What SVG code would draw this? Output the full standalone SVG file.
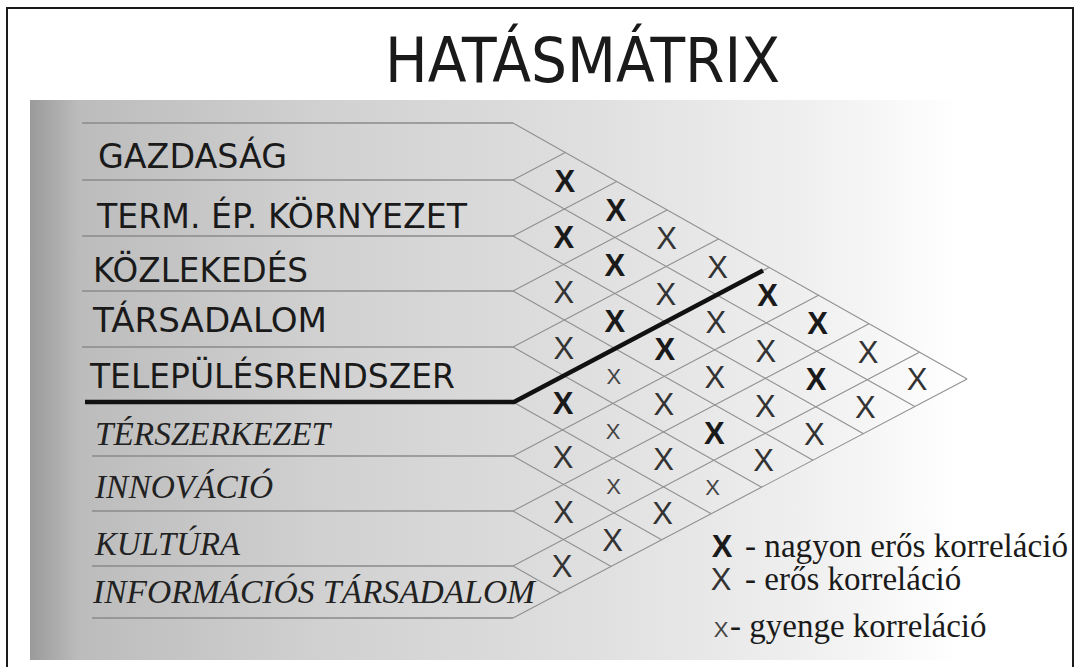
<svg xmlns="http://www.w3.org/2000/svg" width="1080" height="667" viewBox="0 0 1080 667">
<defs>
<linearGradient id="bg" x1="30" y1="0" x2="1010" y2="0" gradientUnits="userSpaceOnUse">
<stop offset="0" stop-color="#9a9a9a"/>
<stop offset="0.05" stop-color="#bcbcbc"/>
<stop offset="0.3" stop-color="#d1d1d1"/>
<stop offset="0.55" stop-color="#dedede"/>
<stop offset="0.8" stop-color="#f0f0f0"/>
<stop offset="0.95" stop-color="#ffffff"/>
</linearGradient>
<style>
.frame{fill:none;stroke:#1a1a1a;stroke-width:2}
.row{fill:none;stroke:#8a8a8a;stroke-width:1.3}
.grid{fill:none;stroke:#909090;stroke-width:1.1}
.thick{fill:none;stroke:#111;stroke-width:4.5;stroke-linejoin:miter}
.title{font-family:"DejaVu Sans",sans-serif;font-size:62px;fill:#1a1a1a}
.lab{font-family:"DejaVu Sans",sans-serif;font-size:34px;fill:#1a1a1a}
.ital{font-family:"Liberation Serif",serif;font-style:italic;font-size:33px;fill:#222}
.xb{font-family:"Liberation Sans",sans-serif;font-weight:bold;font-size:31px;fill:#1a1a1a;text-anchor:middle}
.xn{font-family:"Liberation Sans",sans-serif;font-size:31px;fill:#333;text-anchor:middle}
.xs{font-family:"Liberation Sans",sans-serif;font-size:22px;fill:#444;text-anchor:middle}
.leg{font-family:"Liberation Serif",serif;font-size:33px;fill:#1a1a1a}
</style>
</defs>
<rect width="1080" height="667" fill="#ffffff"/>
<rect x="30" y="100" width="990" height="560" fill="url(#bg)"/>
<rect class="frame" x="7" y="8" width="1066" height="700"/>
<text class="title" x="385" y="82" textLength="395" lengthAdjust="spacingAndGlyphs">HATÁSMÁTRIX</text>

<g id="connectors">
<path class="row" d="M82 123H513M82 180H513M82 236H513M82 291H513M82 347H513M92 456H513M92 511H513M92 566H513M92 618H513"/>
<path class="grid" d="M513 123L967.1 379.1M513 180L914.8 406.6M513 236L863.5 433.7M513 291L813 460.2M513 347L761.6 487.2M513 402L711.2 513.8M513 456L661.6 539.8M513 511L611.2 566.4M513 566L560.7 592.9"/>
<path class="grid" d="M513 180L565.3 152.5M513 236L616.7 181.5M513 291L667.1 209.9M513 347L718.5 238.9M513 402L769 267.4M513 456L818.5 295.3M513 511L869 323.8M513 566L919.4 352.2M513 618L967.1 379.1"/>
<path class="thick" d="M85 402H514L763 270.5"/>
</g>

<g id="labels">
<text id="n-gazdasag" class="lab" x="98" y="168" textLength="189" lengthAdjust="spacingAndGlyphs">GAZDASÁG</text>
<text id="n-term" class="lab" x="97" y="228" textLength="370" lengthAdjust="spacingAndGlyphs">TERM. ÉP. KÖRNYEZET</text>
<text id="n-kozlekedes" class="lab" x="93" y="282" textLength="215" lengthAdjust="spacingAndGlyphs">KÖZLEKEDÉS</text>
<text id="n-tarsadalom" class="lab" x="93" y="332" textLength="234" lengthAdjust="spacingAndGlyphs">TÁRSADALOM</text>
<text id="n-telepules" class="lab" x="90" y="388" textLength="365" lengthAdjust="spacingAndGlyphs">TELEPÜLÉSRENDSZER</text>
<text id="n-terszerkezet" class="ital" x="95" y="445" textLength="235" lengthAdjust="spacingAndGlyphs">TÉRSZERKEZET</text>
<text id="n-innovacio" class="ital" x="95" y="498" textLength="178" lengthAdjust="spacingAndGlyphs">INNOVÁCIÓ</text>
<text id="n-kultura" class="ital" x="95" y="555" textLength="145" lengthAdjust="spacingAndGlyphs">KULTÚRA</text>
<text id="n-infotars" class="ital" x="93" y="603" textLength="442" lengthAdjust="spacingAndGlyphs">INFORMÁCIÓS TÁRSADALOM</text>
</g>

<g id="cells">
<text class="xb" x="564.8" y="191.7">X</text>
<text class="xb" x="563.9" y="247.7">X</text>
<text class="xn" x="563.9" y="303.2">X</text>
<text class="xn" x="563.9" y="358.7">X</text>
<text class="xb" x="563" y="413.7">X</text>
<text class="xn" x="563" y="468.2">X</text>
<text class="xn" x="563.5" y="523">X</text>
<text class="xn" x="562.1" y="577.2">X</text>

<text class="xb" x="615.8" y="220.5">X</text>
<text class="xb" x="614.8" y="276.4">X</text>
<text class="xb" x="614.8" y="331.9">X</text>
<text class="xs" x="613.9" y="383.9">X</text>
<text class="xs" x="613" y="438.9">X</text>
<text class="xs" x="613.5" y="493.7">X</text>
<text class="xn" x="612.5" y="550.6">X</text>

<text class="xn" x="666.7" y="249.2">X</text>
<text class="xn" x="665.8" y="305.1">X</text>
<text class="xb" x="664.8" y="360.1">X</text>
<text class="xn" x="663.9" y="415.1">X</text>
<text class="xn" x="663.5" y="470.4">X</text>
<text class="xn" x="662.5" y="524.3">X</text>

<text class="xn" x="717.6" y="277.9">X</text>
<text class="xn" x="715.8" y="333.3">X</text>
<text class="xn" x="714.8" y="388.3">X</text>
<text class="xb" x="714.4" y="443.6">X</text>
<text class="xs" x="712.5" y="495">X</text>

<text class="xb" x="767.6" y="306.1">X</text>
<text class="xn" x="765.8" y="361.5">X</text>
<text class="xn" x="765.3" y="416.8">X</text>
<text class="xn" x="763.5" y="471.3">X</text>

<text class="xb" x="817.6" y="334.3">X</text>
<text class="xb" x="816.2" y="390">X</text>
<text class="xn" x="814.4" y="444.5">X</text>

<text class="xn" x="868" y="362.7">X</text>
<text class="xn" x="865.3" y="417.7">X</text>

<text class="xn" x="917.1" y="390.4">X</text>
</g>

<g id="legend">
<text class="xb" x="722" y="557">X</text>
<text class="leg" x="745" y="557" textLength="323" lengthAdjust="spacingAndGlyphs">- nagyon erős korreláció</text>
<text class="xn" x="721" y="590">X</text>
<text class="leg" x="745" y="590">- erős korreláció</text>
<text class="xs" x="721" y="637">X</text>
<text class="leg" x="730" y="637">- gyenge korreláció</text>
</g>
</svg>
